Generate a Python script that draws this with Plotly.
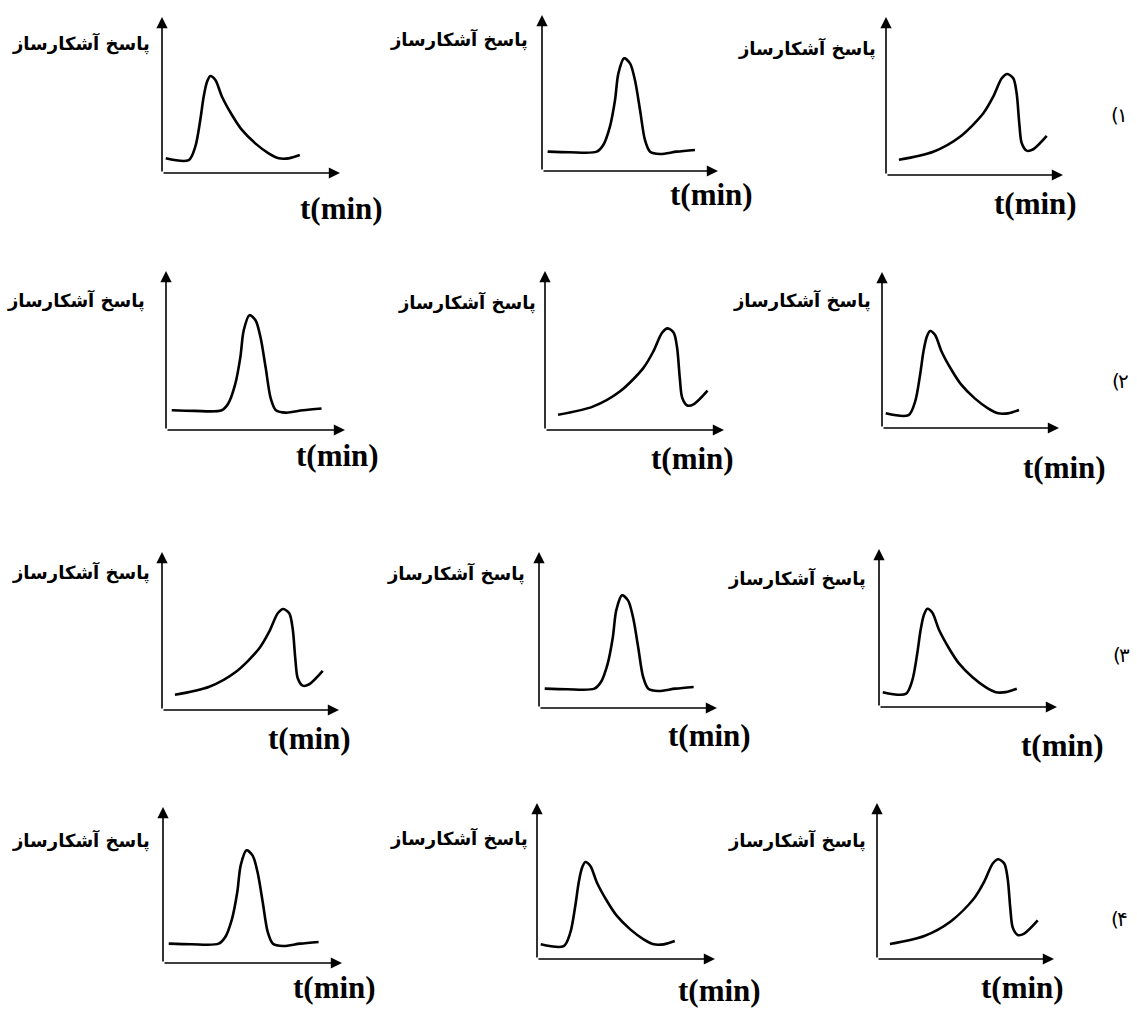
import plotly.graph_objects as go

W, H = 1137, 1009

# Three chromatographic peak shapes (relative units: t 0-10, response 0-10)
gauss_t = [0.32, 1.59, 3.11, 3.48, 3.86, 4.15, 4.34, 4.66, 5.00, 5.28, 5.57, 5.85, 6.14, 6.70, 7.65, 8.69]
gauss_r = [1.24, 1.20, 1.24, 1.67, 2.85, 4.55, 6.26, 7.22, 6.90, 5.83, 3.91, 1.99, 1.24, 1.09, 1.24, 1.35]

tail_t = [0.21, 1.50, 1.87, 2.15, 2.34, 2.53, 2.72, 3.00, 3.37, 3.93, 4.49, 5.24, 5.99, 6.56, 7.12, 7.74]
tail_r = [0.94, 0.83, 1.69, 3.40, 4.89, 5.85, 6.22, 5.96, 4.89, 3.72, 2.76, 1.90, 1.26, 0.94, 0.94, 1.15]

front_t = [0.73, 2.67, 4.18, 5.50, 6.06, 6.54, 6.85, 7.19, 7.38, 7.53, 7.67, 7.95, 8.32, 9.08]
front_r = [0.96, 1.47, 2.42, 3.91, 4.96, 6.12, 6.39, 6.12, 5.17, 3.27, 2.01, 1.54, 1.63, 2.47]

shapes_data = {"G": (gauss_t, gauss_r), "T": (tail_t, tail_r), "F": (front_t, front_r)}

# panel order (row by row, left to right)
panel_shapes = ["T", "G", "F",
                "G", "F", "T",
                "F", "G", "T",
                "G", "T", "F"]

# panel frame in pixels: y-axis x, x-axis end, origin y, y-axis top
panel_frames = [
    (162, 340, 173, 17), (542, 718, 171, 15), (886, 1063, 175, 17),
    (166, 345, 430, 271), (545, 724, 430, 271), (882, 1059, 428, 272),
    (162, 339, 710, 552), (539, 717, 708, 552), (879, 1057, 707, 549),
    (163, 342, 963, 807), (537, 715, 959, 803), (877, 1054, 959, 803),
]

ylabel_text = "پاسخ آشکارساز"
ylabel_pos = [(152, 43), (530, 40), (878, 48),
              (147, 300), (538, 302), (873, 300),
              (152, 572), (527, 573), (868, 578),
              (152, 840), (530, 838), (868, 840)]

xlabel_text = "t(min)"
xlabel_pos = [(341, 208), (712, 195), (1035, 203),
              (337, 455), (692, 458), (1064, 467),
              (309, 738), (709, 735), (1062, 745),
              (334, 987), (719, 990), (1022, 987)]

# option numbers, drawn as "(" followed by a Persian digit
option_digits = ["۱", "۲", "۳", "۴"]
option_pos = [(1120, 115), (1121, 381), (1122, 655), (1120, 919)]

fig = go.Figure()
annotations = []
layout_axes = {}

for i, (shp, frame) in enumerate(zip(panel_shapes, panel_frames)):
    n = i + 1
    xa = "x" if n == 1 else f"x{n}"
    ya = "y" if n == 1 else f"y{n}"
    xs, ys = shapes_data[shp]
    fig.add_trace(go.Scatter(x=xs, y=ys, mode="lines", xaxis=xa, yaxis=ya,
                             line=dict(color="black", width=2.6, shape="spline", smoothing=0.85),
                             hoverinfo="skip"))
    yx, xend, oy, top = frame
    kx = "xaxis" if n == 1 else f"xaxis{n}"
    ky = "yaxis" if n == 1 else f"yaxis{n}"
    layout_axes[kx] = dict(domain=[yx / W, xend / W], range=[0, 10], visible=False,
                           anchor=ya, fixedrange=True)
    layout_axes[ky] = dict(domain=[1 - oy / H, 1 - top / H], range=[0, 10], visible=False,
                           anchor=xa, fixedrange=True)
    # axis arrows
    annotations.append(dict(x=10, y=0, ax=0, ay=0, xref=xa, yref=ya, axref=xa, ayref=ya,
                            showarrow=True, arrowhead=2, arrowsize=1.4, arrowwidth=1.6,
                            arrowcolor="black", standoff=0, startstandoff=0, text=""))
    annotations.append(dict(x=0, y=10, ax=0, ay=0, xref=xa, yref=ya, axref=xa, ayref=ya,
                            showarrow=True, arrowhead=2, arrowsize=1.4, arrowwidth=1.6,
                            arrowcolor="black", standoff=0, startstandoff=0, text=""))
    lx, ly = ylabel_pos[i]
    annotations.append(dict(x=lx / W, y=1 - ly / H, xref="paper", yref="paper",
                            xanchor="right", yanchor="middle", showarrow=False,
                            text=f"<b>{ylabel_text}</b>",
                            font=dict(family="DejaVu Sans", size=18, color="black")))
    tx, ty = xlabel_pos[i]
    annotations.append(dict(x=tx / W, y=1 - ty / H, xref="paper", yref="paper",
                            xanchor="center", yanchor="middle", showarrow=False,
                            text=f"<b>{xlabel_text}</b>",
                            font=dict(family="Liberation Serif", size=31, color="black")))

for dig, (ox, oy) in zip(option_digits, option_pos):
    annotations.append(dict(x=ox / W, y=1 - oy / H, xref="paper", yref="paper",
                            xanchor="right", yanchor="middle", showarrow=False, borderpad=0,
                            text="(", font=dict(family="DejaVu Sans", size=20, color="black")))
    annotations.append(dict(x=(ox - 4) / W, y=1 - oy / H, xref="paper", yref="paper",
                            xanchor="left", yanchor="middle", showarrow=False, borderpad=0,
                            text=dig, font=dict(family="DejaVu Sans", size=20, color="black")))

fig.update_layout(width=W, height=H, margin=dict(l=0, r=0, t=0, b=0),
                  paper_bgcolor="white", plot_bgcolor="white", showlegend=False,
                  annotations=annotations, **layout_axes)

fig.write_html("out.html", config={"displayModeBar": False},
               post_script="document.body.style.margin='0px';")
